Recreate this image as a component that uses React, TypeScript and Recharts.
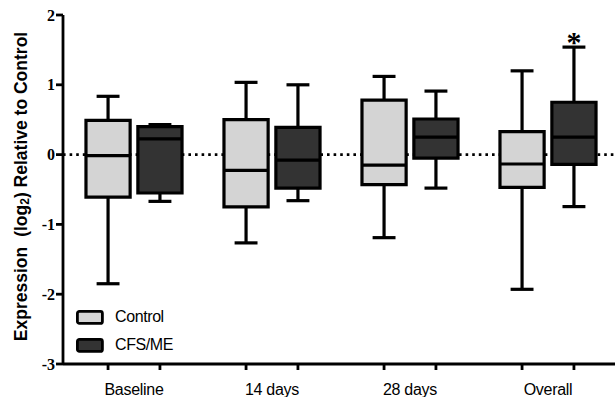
import React from "react";
import {
  ComposedChart,
  XAxis,
  YAxis,
  ReferenceArea,
  ReferenceLine,
  ReferenceDot,
} from "recharts";

const categories = ["Baseline", "14 days", "28 days", "Overall"];
// [min, q1, median, q3, max]
const controlStats = [
  [-1.85, -0.61, -0.015, 0.49, 0.835],
  [-1.265, -0.75, -0.225, 0.5, 1.035],
  [-1.19, -0.43, -0.15, 0.78, 1.12],
  [-1.93, -0.47, -0.135, 0.33, 1.2],
];
const cfsStats = [
  [-0.67, -0.55, 0.225, 0.4, 0.43],
  [-0.66, -0.48, -0.08, 0.39, 1.0],
  [-0.48, -0.05, 0.25, 0.51, 0.91],
  [-0.745, -0.14, 0.25, 0.75, 1.54],
];
const cfsSignificant = [false, false, false, true];
const yTicks = [-3, -2, -1, 0, 1, 2];

const series = [
  { name: "Control", stats: controlStats, fill: "#d4d4d4", offset: -0.188 },
  { name: "CFS/ME", stats: cfsStats, fill: "#333333", offset: 0.188 },
];

const X_DOMAIN: [number, number] = [-0.5145, 3.4855];
const BOX_HALF = 0.16;
const CAP_HALF = 0.083;
const PLOT_W = 552;
const PAIR_PX = ((series[1].offset - series[0].offset) * PLOT_W) / (X_DOMAIN[1] - X_DOMAIN[0]);

const xTicks = categories.flatMap((_, i) => series.map((s) => i + s.offset));

const XTick = (props: any) => {
  const { x, y, index } = props;
  if (index % 2 !== 0) return null;
  const label = categories[Math.floor(index / 2)];
  return (
    <text
      x={x + PAIR_PX / 2}
      y={y + 23}
      textAnchor="middle"
      fontFamily="Liberation Sans, Arial, sans-serif"
      fontSize={16}
      letterSpacing={-0.3}
      fill="#000"
    >
      {label}
    </text>
  );
};

const YLabel = (props: any) => {
  const vb = props.viewBox || {};
  const cy = (vb.y ?? 15) + (vb.height ?? 349) / 2 - 3;
  const cx = 21;
  return (
    <text
      x={cx}
      y={cy}
      transform={`rotate(-90 ${cx} ${cy})`}
      textAnchor="middle"
      dominantBaseline="central"
      fontFamily="Liberation Sans, Arial, sans-serif"
      fontWeight="bold"
      fontSize={17.5}
      fill="#000"
    >
      <tspan>Expression</tspan>
      <tspan dx={10}>(log</tspan>
      <tspan fontSize={12} dy={4}>2</tspan>
      <tspan dy={-4}>) Relative to Control</tspan>
    </text>
  );
};

export default function App() {
  const sw = 3.2;
  return (
    <div style={{ position: "absolute", left: 0, top: 0, width: 615, height: 397, background: "#fff" }}>
      <ComposedChart width={615} height={397} margin={{ top: 15, right: 0, bottom: 0, left: 0 }} data={[]}>
        <XAxis
          type="number"
          dataKey="x"
          domain={X_DOMAIN}
          ticks={xTicks}
          allowDataOverflow
          height={33}
          tickSize={6}
          axisLine={{ stroke: "#000", strokeWidth: 2.8 }}
          tickLine={{ stroke: "#000", strokeWidth: 2.8 }}
          tick={<XTick />}
          interval={0}
        />
        <YAxis
          type="number"
          domain={[-3, 2]}
          ticks={yTicks}
          allowDataOverflow
          width={63}
          tickSize={7}
          tickMargin={1}
          axisLine={{ stroke: "#000", strokeWidth: 2.8 }}
          tickLine={{ stroke: "#000", strokeWidth: 2.8 }}
          tick={{
            fill: "#000",
            fontFamily: "Liberation Serif, Times New Roman, serif",
            fontWeight: "bold",
            fontSize: 16,
          }}
          label={<YLabel />}
        />
        <ReferenceLine
          y={0}
          stroke="#000"
          strokeWidth={2.6}
          strokeDasharray="2.6 4"
          zIndex={50}
        />
        {series.map((s) =>
          s.stats.map((st, i) => {
            const cx = i + s.offset;
            const [mn, q1, md, q3, mx] = st;
            return (
              <React.Fragment key={s.name + i}>
                <ReferenceLine
                  segment={[{ x: cx, y: q3 }, { x: cx, y: mx }]}
                  stroke="#000"
                  strokeWidth={sw}
                  ifOverflow="visible"
                  zIndex={200}
                />
                <ReferenceLine
                  segment={[{ x: cx, y: q1 }, { x: cx, y: mn }]}
                  stroke="#000"
                  strokeWidth={sw}
                  ifOverflow="visible"
                  zIndex={200}
                />
                <ReferenceLine
                  segment={[{ x: cx - CAP_HALF, y: mx }, { x: cx + CAP_HALF, y: mx }]}
                  stroke="#000"
                  strokeWidth={sw}
                  ifOverflow="visible"
                  zIndex={200}
                />
                <ReferenceLine
                  segment={[{ x: cx - CAP_HALF, y: mn }, { x: cx + CAP_HALF, y: mn }]}
                  stroke="#000"
                  strokeWidth={sw}
                  ifOverflow="visible"
                  zIndex={200}
                />
                <ReferenceArea
                  x1={cx - BOX_HALF}
                  x2={cx + BOX_HALF}
                  y1={q1}
                  y2={q3}
                  fill={s.fill}
                  fillOpacity={1}
                  stroke="#000"
                  strokeWidth={sw}
                  ifOverflow="visible"
                  zIndex={300}
                />
                <ReferenceLine
                  segment={[{ x: cx - BOX_HALF, y: md }, { x: cx + BOX_HALF, y: md }]}
                  stroke="#000"
                  strokeWidth={sw}
                  ifOverflow="visible"
                  zIndex={400}
                />
              </React.Fragment>
            );
          })
        )}
        {cfsSignificant.map((sig, i) =>
          sig ? (
            <ReferenceDot
              key={"sig" + i}
              x={i + series[1].offset}
              y={cfsStats[i][4]}
              r={0}
              ifOverflow="visible"
              zIndex={500}
              shape={(p: any) => (
                <text
                  x={p.cx}
                  y={p.cy + 5}
                  textAnchor="middle"
                  fontFamily="Liberation Serif, Times New Roman, serif"
                  fontWeight="bold"
                  fontSize={30}
                  fill="#000"
                >
                  *
                </text>
              )}
            />
          ) : null
        )}
      </ComposedChart>
      <div
        style={{
          position: "absolute",
          left: 76,
          top: 303,
          fontFamily: "Liberation Sans, Arial, sans-serif",
          fontSize: 16,
          color: "#000",
        }}
      >
        {series.map((s) => (
          <div key={s.name} style={{ display: "flex", alignItems: "center", height: 28 }}>
            <svg width={28} height={15} style={{ display: "block" }}>
              <rect x={1.4} y={1.4} width={25} height={12} rx={2} fill={s.fill} stroke="#000" strokeWidth={2.8} />
            </svg>
            <span style={{ marginLeft: 11, letterSpacing: -0.4 }}>{s.name}</span>
          </div>
        ))}
      </div>
    </div>
  );
}
